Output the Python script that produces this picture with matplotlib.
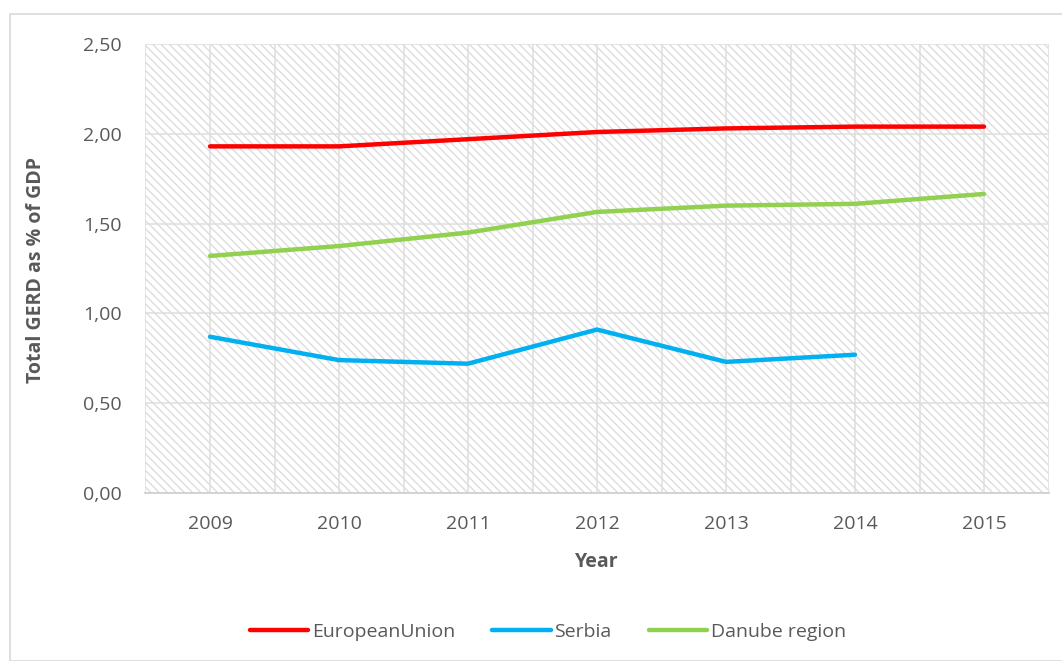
import numpy as np
import matplotlib.pyplot as plt
from matplotlib.patches import Rectangle
from matplotlib import rcParams

rcParams['font.family'] = 'Open Sans'
rcParams['font.size'] = 14
rcParams['hatch.color'] = '#dcdcdc'
rcParams['hatch.linewidth'] = 1.0

years = ['2009', '2010', '2011', '2012', '2013', '2014', '2015']
eu = [1.93, 1.93, 1.97, 2.01, 2.03, 2.04, 2.04]
serbia = [0.87, 0.74, 0.72, 0.91, 0.73, 0.77]
danube = [1.32, 1.375, 1.45, 1.565, 1.60, 1.61, 1.665]
y_ticks = [0.0, 0.5, 1.0, 1.5, 2.0, 2.5]

grey_txt = '#595959'

fig = plt.figure(figsize=(10.62, 6.61), dpi=100)
# outer chart border like the excel frame
fig.patches.append(Rectangle((10 / 1062, 0), 1.2, (661 - 14) / 661,
                             transform=fig.transFigure, fill=False,
                             edgecolor='#d9d9d9', linewidth=1.2))

ax = fig.add_axes([145.5 / 1062, (661 - 493) / 661, 903 / 1062, 449 / 661])
ax.set_xlim(-0.5, len(years) - 0.5)
ax.set_ylim(0, 2.5)

# hatched plot area
ax.add_patch(Rectangle((0, 0), 1, 1, transform=ax.transAxes, facecolor='white',
                       hatch='\\\\\\\\', edgecolor='#dcdcdc', linewidth=0, zorder=0))

x = np.arange(len(years))
for v in np.arange(-0.5, len(years), 0.5):
    ax.axvline(v, color='#dedede', lw=1.1, zorder=1)
for v in y_ticks:
    ax.axhline(v, color='#dedede', lw=1.1, zorder=1)

ax.plot(x, eu, color='#ff0000', lw=3.2, solid_capstyle='round', label='EuropeanUnion', zorder=3)
ax.plot(x[:len(serbia)], serbia, color='#00b0f0', lw=3.2, solid_capstyle='round', label='Serbia', zorder=3)
ax.plot(x, danube, color='#92d050', lw=3.2, solid_capstyle='round', label='Danube region', zorder=3)

ax.set_xticks(x)
ax.set_xticklabels(years)
ax.set_yticks(y_ticks)
ax.set_yticklabels(['{:.2f}'.format(v).replace('.', ',') for v in y_ticks])
ax.tick_params(axis='both', length=0, colors=grey_txt, labelsize=14)
ax.tick_params(axis='x', pad=16)
ax.tick_params(axis='y', pad=17)

for side in ['top', 'right', 'left']:
    ax.spines[side].set_visible(False)
ax.spines['bottom'].set_color('#d0d0d0')
ax.spines['bottom'].set_linewidth(1.3)

fig.text(597 / 1062, 1 - 562 / 661, 'Year', ha='center', va='center',
         fontsize=14, fontweight='bold', color=grey_txt)
fig.text(36 / 1062, 1 - 270 / 661, 'Total GERD as % of GDP', ha='center', va='center',
         rotation=90, fontsize=14, fontweight='bold', color=grey_txt)

leg = fig.legend(loc='center', bbox_to_anchor=(548 / 1062, 1 - 632 / 661), ncol=3,
                 frameon=False, handlelength=3.0, handletextpad=0.2,
                 columnspacing=1.9, fontsize=14)
for t in leg.get_texts():
    t.set_color(grey_txt)

fig.savefig('out.png', dpi=100)
